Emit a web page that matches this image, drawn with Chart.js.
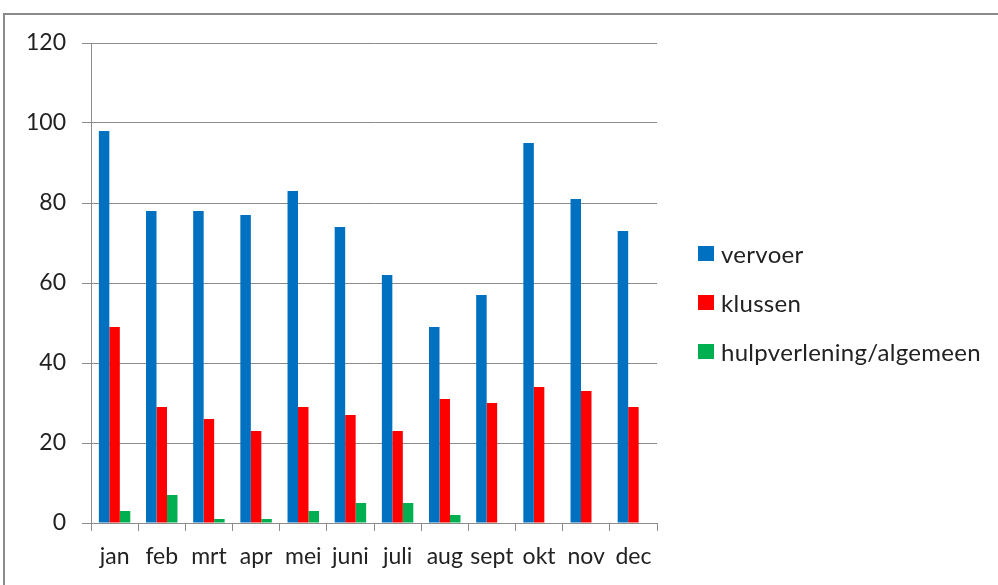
<!DOCTYPE html>
<html>
<head>
<meta charset="utf-8">
<script src="https://cdn.jsdelivr.net/npm/chart.js@4.4.1/dist/chart.umd.min.js"></script>
<style>
  html, body { margin: 0; padding: 0; background: #fff; }
  body { width: 998px; height: 585px; position: relative; overflow: hidden; }
  #frame {
    position: absolute; left: 3px; top: 13px; width: 1100px; height: 700px;
    border: 2px solid #8a8a8a; box-sizing: border-box;
  }
  #wrap { position: absolute; left: 0; top: 0; width: 998px; height: 585px; }
  #legend {
    position: absolute; left: 698px; top: 229px;
    font-family: Lato, "Noto Sans", sans-serif; font-size: 24px; letter-spacing: 0.3px; color: #222;
  }
  .item { display: flex; align-items: center; height: 49px; }
  .item span.box { width: 16px; height: 15px; margin-right: 7px; display: inline-block; }
</style>
</head>
<body>
<div id="frame"></div>
<div id="wrap"><canvas id="chart" width="998" height="585"></canvas></div>
<div id="legend"></div>
<script>
const months = ["jan", "feb", "mrt", "apr", "mei", "juni", "juli", "aug", "sept", "okt", "nov", "dec"];
const vervoer = [98, 78, 78, 77, 83, 74, 62, 49, 57, 95, 81, 73];
const klussen = [49, 29, 26, 23, 29, 27, 23, 31, 30, 34, 33, 29];
const hulpverlening = [3, 7, 1, 1, 3, 5, 5, 2, 0, 0, 0, 0];
const seriesNames = ["vervoer", "klussen", "hulpverlening/algemeen"];
const seriesColors = ["#0070C0", "#FF0000", "#00B050"];
const yTicks = [0, 20, 40, 60, 80, 100, 120];

const font = { family: "Lato, 'Noto Sans', sans-serif", size: 23 };
const gridColor = "#8c8c8c";

const chart = new Chart(document.getElementById("chart"), {
  type: "bar",
  data: {
    labels: months,
    datasets: [vervoer, klussen, hulpverlening].map((d, i) => ({
      label: seriesNames[i],
      data: d,
      backgroundColor: seriesColors[i],
      borderWidth: 0,
      categoryPercentage: 0.667,
      barPercentage: 1.0,
    })),
  },
  options: {
    responsive: false,
    animation: false,
    layout: { padding: { top: 43, right: 341, bottom: 0, left: 0 } },
    plugins: {
      legend: { display: false },
      tooltip: { enabled: false },
    },
    scales: {
      x: {
        grid: {
          offset: true,
          drawOnChartArea: false,
          drawTicks: true,
          tickLength: 8,
          color: gridColor,
        },
        border: { display: true, color: gridColor, width: 1 },
        ticks: { font: font, color: "#222", padding: 12, maxRotation: 0, autoSkip: false },
        afterFit: (scale) => { scale.height = 62; },
      },
      y: {
        min: 0,
        max: 120,
        afterBuildTicks: (scale) => {
          scale.ticks = yTicks.map((v) => ({ value: v }));
        },
        grid: { color: gridColor, tickLength: 9, drawTicks: true },
        border: { display: true, color: gridColor, width: 1 },
        ticks: { font: font, color: "#222", padding: 16 },
        afterFit: (scale) => { scale.width = 91; },
      },
    },
  },
});

// legend as html, built from the same series arrays
const legend = document.getElementById("legend");
seriesNames.forEach((name, i) => {
  const row = document.createElement("div");
  row.className = "item";
  row.innerHTML = `<span class="box" style="background:${seriesColors[i]}"></span>${name}`;
  legend.appendChild(row);
});
</script>
</body>
</html>
